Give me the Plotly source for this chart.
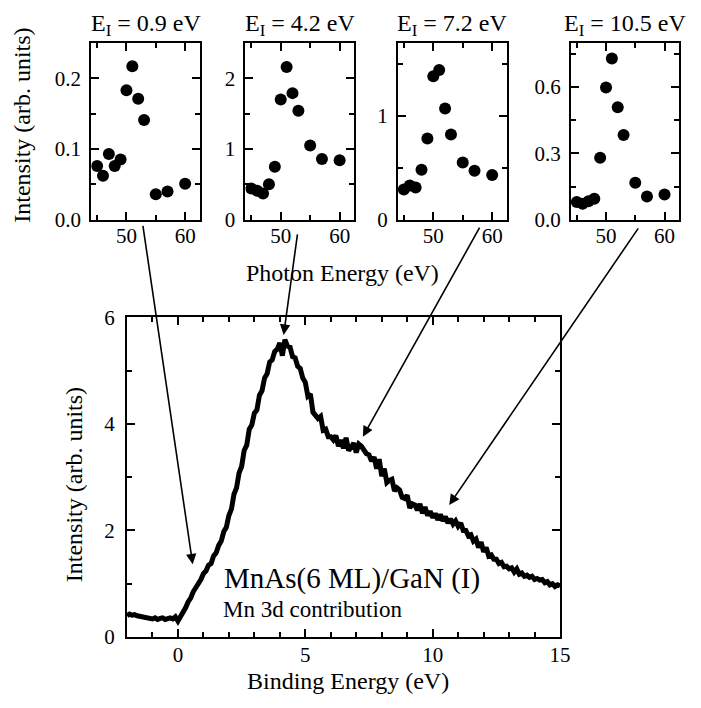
import numpy as np
import plotly.graph_objects as go

# ---- resonant photoemission: constant-initial-state intensities ----
photon_energy = [45, 46, 47, 48, 49, 50, 51, 52, 53, 55, 57, 60]
initial_states = [0.9, 4.2, 7.2, 10.5]
cis_0p9 = [0.076, 0.062, 0.093, 0.076, 0.085, 0.183, 0.217, 0.171, 0.141, 0.036, 0.040, 0.051]
cis_4p2 = [0.44, 0.41, 0.37, 0.50, 0.75, 1.70, 2.16, 1.79, 1.54, 1.05, 0.86, 0.84]
cis_7p2 = [0.29, 0.33, 0.31, 0.48, 0.78, 1.38, 1.44, 1.07, 0.82, 0.55, 0.47, 0.43]
cis_10p5 = [0.080, 0.072, 0.083, 0.095, 0.280, 0.598, 0.730, 0.509, 0.383, 0.167, 0.105, 0.114]

# ---- Mn 3d partial density of states (difference spectrum), 0.1 eV grid ----
binding_energy = np.round(np.arange(-2.0, 15.0001, 0.1), 1)
mn3d_intensity = [
    0.40, 0.43, 0.41, 0.42, 0.40, 0.39, 0.40, 0.38, 0.37, 0.35,
    0.34, 0.36, 0.33, 0.35, 0.36, 0.33, 0.35, 0.36, 0.34, 0.38,
    0.30,
    0.37, 0.47, 0.55, 0.66, 0.73, 0.85, 0.92, 1.03, 1.08, 1.19,
    1.24, 1.35, 1.38, 1.52, 1.58, 1.72, 1.80, 1.98, 2.06, 2.28,
    2.40, 2.68, 2.80, 3.08, 3.20, 3.50, 3.60, 3.90, 3.98, 4.20,
    4.26, 4.54, 4.62, 4.86, 4.94, 5.16, 5.20, 5.36, 5.40, 5.52,
    5.28, 5.58, 5.46, 5.44, 5.26, 5.24, 5.08, 5.04, 4.86, 4.78,
    4.52, 4.56, 4.22, 4.16, 4.10, 4.14, 3.88, 3.90, 3.76, 3.76,
    3.70, 3.78, 3.58, 3.70, 3.54, 3.74, 3.50, 3.56, 3.64, 3.46,
    3.62, 3.58, 3.52, 3.44, 3.42, 3.30, 3.38, 3.16, 3.34, 3.02,
    3.16, 2.90, 2.94, 2.96, 2.74, 2.80, 2.76, 2.62, 2.60, 2.66,
    2.42, 2.50, 2.48, 2.38, 2.50, 2.32, 2.44, 2.28, 2.36, 2.24,
    2.32, 2.20, 2.30, 2.18, 2.26, 2.14, 2.22, 2.12, 2.18, 2.08,
    2.14, 2.00, 2.00, 1.90, 1.92, 1.80, 1.84, 1.68, 1.78, 1.60,
    1.68, 1.52, 1.54, 1.46, 1.46, 1.38, 1.40, 1.32, 1.33, 1.28,
    1.30, 1.22, 1.28, 1.18, 1.20, 1.14, 1.16, 1.12, 1.14, 1.08,
    1.10, 1.07, 1.08, 1.02, 1.04, 0.98, 1.00, 0.95, 0.98, 0.96,
]

FONT = "Times New Roman, Liberation Serif, Tinos, serif"
TICK_FONT = dict(family=FONT, size=21, color="black")
TITLE_FONT = dict(family=FONT, size=24, color="black")

fig = go.Figure()

# main spectrum
fig.add_trace(go.Scatter(
    x=binding_energy, y=mn3d_intensity, mode="lines",
    line=dict(color="black", width=5), xaxis="x", yaxis="y",
    showlegend=False, hoverinfo="skip",
))

# inset CIS panels
inset_series = [cis_0p9, cis_4p2, cis_7p2, cis_10p5]
for i, vals in enumerate(inset_series):
    n = i + 2
    fig.add_trace(go.Scatter(
        x=photon_energy, y=vals, mode="markers",
        marker=dict(color="black", size=12),
        xaxis=f"x{n}", yaxis=f"y{n}", showlegend=False, hoverinfo="skip",
    ))


def axis_style(**kw):
    base = dict(
        showline=True, linecolor="black", linewidth=2, mirror="allticks",
        ticks="inside", ticklen=8, tickwidth=1.5, tickcolor="black",
        showgrid=False, zeroline=False, tickfont=TICK_FONT,
    )
    base.update(kw)
    return base


W, H = 701, 708


def px_x(a, b):
    return [a / W, b / W]


def px_y(top, bottom):
    return [(H - bottom) / H, (H - top) / H]


def minor(dt):
    return dict(ticks="inside", ticklen=5, dtick=dt, tick0=0,
                tickwidth=1.5, tickcolor="black")


layout = dict(
    width=W, height=H, margin=dict(l=0, r=0, t=0, b=0),
    paper_bgcolor="white", plot_bgcolor="white",
    font=dict(family=FONT, color="black"),
    showlegend=False,
)

# main axes
layout["xaxis"] = axis_style(
    domain=px_x(129, 569), range=[-2, 15], dtick=5, tick0=0, anchor="y",
    minor=minor(1), ticklabelstandoff=-2,
)
layout["yaxis"] = axis_style(
    domain=px_y(316, 647), range=[0, 6], dtick=2, tick0=0, anchor="x",
    minor=minor(1), ticklabelstandoff=6,
)

inset_x = [(92.7, 203), (249.3, 360), (404.3, 515), (580, 690)]
inset_y = [
    dict(range=[0, 0.25], dtick=0.1, minor=0.05, fmt=".1f"),
    dict(range=[0, 2.5], dtick=1, minor=0.5, fmt="d"),
    dict(range=[0, 1.7], dtick=1, minor=0.5, fmt="d"),
    dict(range=[0, 0.8], dtick=0.3, minor=0.15, fmt=".1f"),
]
for i in range(4):
    n = i + 2
    layout[f"xaxis{n}"] = axis_style(
        domain=px_x(*inset_x[i]), range=[44, 62.5], dtick=10, tick0=0,
        anchor=f"y{n}", minor=minor(5), ticklabelstandoff=-4,
    )
    yi = inset_y[i]
    layout[f"yaxis{n}"] = axis_style(
        domain=px_y(32, 215), range=yi["range"], dtick=yi["dtick"], tick0=0,
        tickformat=yi["fmt"], anchor=f"x{n}", ticklabelstandoff=4,
        minor=minor(yi["minor"]),
    )

annotations = []

# panel headings
for i, e in enumerate(initial_states):
    n = i + 2
    annotations.append(dict(
        text=f"E<sub>I</sub> = {e} eV", xref=f"x{n} domain", yref=f"y{n} domain",
        x=0.5, y=1.0, xanchor="center", yanchor="bottom", yshift=1,
        showarrow=False, font=TITLE_FONT,
    ))

# axis titles and labels
annotations += [
    dict(text="Intensity (arb. units)", xref="paper", yref="paper",
         x=22 / W, y=(H - 117) / H, textangle=-90, showarrow=False,
         xanchor="center", yanchor="middle", font=TITLE_FONT),
    dict(text="Photon Energy (eV)", xref="paper", yref="paper",
         x=348 / W, y=(H - 270) / H, showarrow=False,
         xanchor="center", yanchor="middle", font=TITLE_FONT),
    dict(text="Intensity (arb. units)", xref="paper", yref="paper",
         x=76 / W, y=(H - 489) / H, textangle=-90, showarrow=False,
         xanchor="center", yanchor="middle", font=TITLE_FONT),
    dict(text="Binding Energy (eV)", xref="paper", yref="paper",
         x=354 / W, y=(H - 692) / H, showarrow=False,
         xanchor="center", yanchor="middle", font=TITLE_FONT),
    dict(text="MnAs(6 ML)/GaN (I)", xref="x", yref="y",
         x=1.72, y=1.10, showarrow=False, xanchor="left", yanchor="middle",
         font=dict(family=FONT, size=29, color="black")),
    dict(text="Mn 3d contribution", xref="x", yref="y",
         x=1.68, y=0.52, showarrow=False, xanchor="left", yanchor="middle",
         font=dict(family=FONT, size=23, color="black")),
]

# arrows linking each CIS panel to its initial-state energy on the spectrum
arrow_tips = [(0.58, 1.365), (4.15, 5.67), (7.26, 3.76), (10.65, 2.48)]
arrow_tails_px = [(-50, -340), (14, -102), (117.5, -210.5), (190, -278)]
for (tx, ty), (ax, ay) in zip(arrow_tips, arrow_tails_px):
    annotations.append(dict(
        x=tx, y=ty, xref="x", yref="y", ax=ax, ay=ay, text="",
        showarrow=True, arrowhead=2, arrowsize=1.3, arrowwidth=1.6,
        arrowcolor="black", standoff=0, startstandoff=0,
    ))

layout["annotations"] = annotations
fig.update_layout(**layout)
fig.write_html("out.html")
